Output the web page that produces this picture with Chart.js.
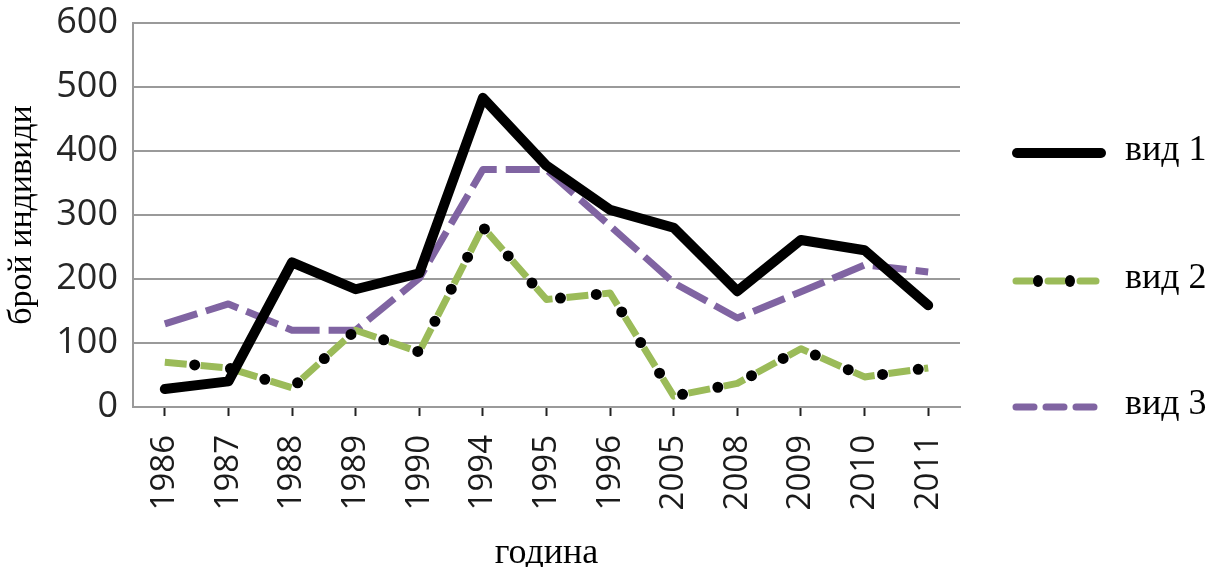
<!DOCTYPE html>
<html>
<head>
<meta charset="utf-8">
<script src="https://cdn.jsdelivr.net/npm/chart.js@4/dist/chart.umd.min.js"></script>
<style>
  html, body { margin: 0; padding: 0; background: #fff; }
  #wrap { width: 1219px; height: 567px; }
</style>
</head>
<body>
<div id="wrap"><canvas id="speciesChart"></canvas></div>
<script>
// години на наблюдение
const years = ['1986', '1987', '1988', '1989', '1990', '1994', '1995', '1996', '2005', '2008', '2009', '2010', '2011'];

// брой индивиди по видове (отчетени от графиката)
const vid1 = [28, 40, 226, 184, 209, 483, 377, 308, 280, 181, 261, 245, 159];
const vid2 = [70, 61, 30, 120, 86, 281, 168, 178, 17, 37, 91, 47, 61];
const vid3 = [130, 161, 120, 120, 201, 371, 371, 283, 194, 139, 180, 222, 211];

const seriesNames = ['вид 1', 'вид 2', 'вид 3'];
const yTicks = [0, 100, 200, 300, 400, 500, 600];

const BLACK = '#000000';
const GREEN = '#9bbb59';
const PURPLE = '#8064a2';
const GRID = '#9a9a9a';

// легенда отдясно - рисува се ръчно, за да има точките на вид 2
const sideLegend = {
    id: 'sideLegend',
    afterDraw(chart) {
        const ctx = chart.ctx;
        const x0 = 1013, x1 = 1105, textX = 1125;
        const rows = [153, 281, 407];
        ctx.save();

        // вид 1
        ctx.beginPath();
        ctx.lineWidth = 10;
        ctx.lineCap = 'round';
        ctx.strokeStyle = BLACK;
        ctx.moveTo(x0 + 4, rows[0]);
        ctx.lineTo(x1 - 4, rows[0]);
        ctx.stroke();

        // вид 2
        ctx.beginPath();
        ctx.lineWidth = 7;
        ctx.lineCap = 'round';
        ctx.strokeStyle = GREEN;
        ctx.setLineDash([16, 16]);
        ctx.moveTo(x0 + 3, rows[1]);
        ctx.lineTo(x1 - 3, rows[1]);
        ctx.stroke();
        ctx.setLineDash([]);
        ctx.fillStyle = BLACK;
        [1038, 1070].forEach(cx => {
            ctx.beginPath();
            ctx.ellipse(cx, rows[1], 5, 6, 0, 0, Math.PI * 2);
            ctx.fill();
        });

        // вид 3
        ctx.beginPath();
        ctx.lineWidth = 7;
        ctx.lineCap = 'round';
        ctx.strokeStyle = PURPLE;
        ctx.setLineDash([18, 12]);
        ctx.moveTo(x0 + 3, rows[2]);
        ctx.lineTo(x1 - 3, rows[2]);
        ctx.stroke();
        ctx.setLineDash([]);

        ctx.fillStyle = '#000';
        ctx.font = '36px "Liberation Serif", "Times New Roman", serif';
        ctx.textBaseline = 'middle';
        seriesNames.forEach((name, i) => ctx.fillText(name, textX, rows[i] - 2));
        ctx.restore();
    }
};

const ctx = document.getElementById('speciesChart').getContext('2d');
const speciesChart = new Chart(ctx, {
    type: 'line',
    data: {
        labels: years,
        datasets: [
            {
                label: seriesNames[0],
                data: vid1,
                borderColor: BLACK,
                borderWidth: 10,
                borderJoinStyle: 'round',
                borderCapStyle: 'round',
                pointRadius: 0,
                tension: 0
            },
            {
                // черните точки по линията на вид 2
                label: 'вид 2 точки',
                data: vid2,
                borderColor: BLACK,
                borderWidth: 11,
                borderDash: [0, 36],
                borderDashOffset: 6,
                borderCapStyle: 'round',
                pointRadius: 0,
                tension: 0
            },
            {
                label: seriesNames[1],
                data: vid2,
                borderColor: GREEN,
                borderWidth: 7,
                borderDash: [22, 14],
                borderDashOffset: 0,
                borderCapStyle: 'butt',
                borderJoinStyle: 'round',
                pointRadius: 0,
                tension: 0
            },
            {
                label: seriesNames[2],
                data: vid3,
                borderColor: PURPLE,
                borderWidth: 7,
                borderDash: [34, 9],
                borderJoinStyle: 'round',
                pointRadius: 0,
                tension: 0
            }
        ]
    },
    options: {
        responsive: true,
        maintainAspectRatio: false,
        animation: false,
        layout: { padding: { left: 0, top: 23, right: 259, bottom: 0 } },
        plugins: {
            legend: { display: false },
            tooltip: { enabled: false }
        },
        scales: {
            x: {
                offset: true,
                afterFit(scale) { scale.height = 160; },
                grid: {
                    offset: false,
                    drawOnChartArea: false,
                    drawTicks: true,
                    tickLength: 9,
                    tickWidth: 2,
                    tickColor: '#222'
                },
                border: { color: GRID, width: 2 },
                ticks: {
                    autoSkip: false,
                    minRotation: 90,
                    maxRotation: 90,
                    padding: 19,
                    color: '#1a1a1a',
                    font: { family: '"Open Sans", sans-serif', size: 33 }
                },
                title: {
                    display: true,
                    text: 'година',
                    color: '#000',
                    padding: { top: 0, bottom: 0 },
                    font: { family: '"Liberation Serif", serif', size: 36, lineHeight: 0.75 }
                }
            },
            y: {
                min: 0,
                max: 600,
                afterFit(scale) {
                    scale.width = 133;
                    scale.paddingTop = 0;
                    scale.paddingBottom = 0;
                },
                afterBuildTicks(scale) { scale.ticks = yTicks.map(v => ({ value: v })); },
                grid: {
                    color: GRID,
                    lineWidth: 2,
                    drawTicks: false
                },
                border: { color: GRID, width: 2 },
                ticks: {
                    padding: 15,
                    color: '#262626',
                    font: { family: '"Open Sans", sans-serif', size: 36 }
                },
                title: {
                    display: true,
                    text: 'брой индивиди',
                    color: '#000',
                    padding: { top: 2, bottom: 2 },
                    font: { family: '"Liberation Serif", serif', size: 34 }
                }
            }
        }
    },
    plugins: [sideLegend]
});
</script>
</body>
</html>
